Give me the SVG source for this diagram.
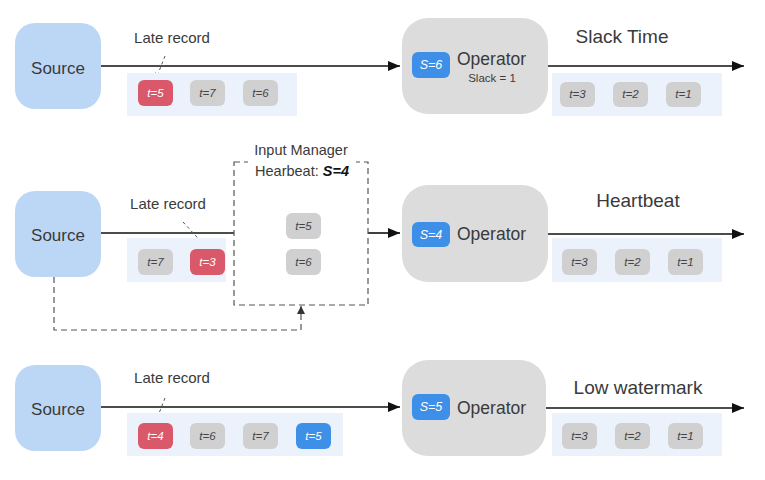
<svg xmlns="http://www.w3.org/2000/svg" width="765" height="480" viewBox="0 0 765 480">
<defs>
<marker id="arr" markerWidth="12" markerHeight="10" refX="12" refY="5" orient="auto" markerUnits="userSpaceOnUse"><path d="M0,0 L12,5 L0,10 Z" fill="#111"/></marker>
<marker id="sarr" markerWidth="6" markerHeight="6" refX="6" refY="3" orient="auto" markerUnits="userSpaceOnUse"><path d="M0,0 L6,3 L0,6 Z" fill="#333"/></marker>
<marker id="darr" markerWidth="8" markerHeight="8" refX="8" refY="4" orient="auto" markerUnits="userSpaceOnUse"><path d="M0,0 L8,4 L0,8 Z" fill="#333"/></marker>
</defs>
<style>
text{font-family:"Liberation Sans",Arial,sans-serif;fill:#3a3a3a}
.src rect{fill:#bcd7f6}
.src text{font-size:17px;text-anchor:middle}
.op rect.b{fill:#dcdcdc}
.op text.o{font-size:17.5px}
.panel{fill:#ebf2fc}
.chip{fill:#d0d0d0}
.red{fill:#d9586a}
.blue{fill:#3d8fe8}
.ct{font-size:11.5px;font-style:italic;text-anchor:middle;fill:#444}
.wt{fill:#fff}
.lbl{font-size:15px;text-anchor:middle}
.ttl{font-size:19px;text-anchor:middle}
.ln{stroke:#111;stroke-width:1.6;fill:none}
.dl{stroke:#555;stroke-width:1;stroke-dasharray:3,3;fill:none}
.dash{stroke:#555;stroke-width:1.2;stroke-dasharray:6,4;fill:none}
</style>
<rect width="765" height="480" fill="#fff"/>

<g id="connectors">
<line class="ln" x1="101" y1="66" x2="400" y2="66" marker-end="url(#arr)"/>
<line class="ln" x1="548" y1="66" x2="744" y2="66" marker-end="url(#arr)"/>
<line class="dl" x1="165" y1="56" x2="156" y2="79" marker-end="url(#sarr)"/>
<line class="ln" x1="101" y1="233" x2="234" y2="233"/>
<line class="ln" x1="368" y1="233" x2="400" y2="233" marker-end="url(#arr)"/>
<line class="ln" x1="548" y1="234" x2="744" y2="234" marker-end="url(#arr)"/>
<line class="dl" x1="183" y1="222" x2="207" y2="248" marker-end="url(#sarr)"/>
<path class="dash" d="M54,277 V330 H301 V306" marker-end="url(#darr)"/>
<line class="ln" x1="101" y1="407" x2="400" y2="407" marker-end="url(#arr)"/>
<line class="ln" x1="546" y1="408" x2="744" y2="408" marker-end="url(#arr)"/>
<line class="dl" x1="165" y1="398" x2="156" y2="421" marker-end="url(#sarr)"/>
</g>

<!-- Row 1 -->
<g id="source1" class="src"><rect x="15" y="23" width="86" height="86" rx="20"/><text x="58" y="74">Source</text></g>
<text class="lbl" x="172" y="43">Late record</text>
<g id="queue1">
<rect class="panel" x="127" y="73" width="170" height="43"/>
<rect class="red" x="138" y="80" width="35" height="26" rx="6"/><text class="ct wt" x="155.5" y="97">t=5</text>
<rect class="chip" x="190" y="80" width="35" height="26" rx="6"/><text class="ct" x="207.5" y="97">t=7</text>
<rect class="chip" x="243" y="80" width="35" height="26" rx="6"/><text class="ct" x="260.5" y="97">t=6</text>
</g>
<g id="operator1" class="op">
<rect class="b" x="402" y="18" width="146" height="96" rx="26"/>
<rect class="blue" x="412" y="52" width="38" height="26" rx="6"/><text class="ct wt" x="431" y="69" style="font-size:12.5px">S=6</text>
<text class="o" x="457" y="65">Operator</text>
<text x="492" y="82" style="font-size:11.5px;text-anchor:middle">Slack = 1</text>
</g>
<text class="ttl" x="622" y="43">Slack Time</text>
<g id="out1">
<rect class="panel" x="552" y="73" width="170" height="43"/>
<rect class="chip" x="560" y="82" width="35" height="25" rx="6"/><text class="ct" x="577.5" y="98">t=3</text>
<rect class="chip" x="613" y="82" width="35" height="25" rx="6"/><text class="ct" x="630.5" y="98">t=2</text>
<rect class="chip" x="666" y="82" width="35" height="25" rx="6"/><text class="ct" x="683.5" y="98">t=1</text>
</g>

<!-- Row 2 -->
<g id="source2" class="src"><rect x="15" y="191" width="86" height="86" rx="20"/><text x="58" y="241">Source</text></g>
<text class="lbl" x="168" y="209">Late record</text>
<g id="queue2">
<rect class="panel" x="127" y="238" width="99" height="44"/>
<rect class="chip" x="138" y="249" width="35" height="26" rx="6"/><text class="ct" x="155.5" y="266">t=7</text>
<rect class="red" x="190" y="249" width="35" height="26" rx="6"/><text class="ct wt" x="207.5" y="266">t=3</text>
</g>
<g id="inputmanager">
<rect class="dash" x="234" y="162" width="134" height="143"/>
<rect x="248" y="148" width="108" height="32" fill="#fff"/>
<text x="301" y="155" style="font-size:14.5px;text-anchor:middle">Input Manager</text>
<text x="302" y="176" style="font-size:14.5px;text-anchor:middle">Hearbeat: <tspan style="font-weight:bold;font-style:italic;fill:#111">S=4</tspan></text>
<rect class="chip" x="286" y="213" width="35" height="26" rx="6"/><text class="ct" x="303.5" y="230">t=5</text>
<rect class="chip" x="286" y="249" width="35" height="26" rx="6"/><text class="ct" x="303.5" y="266">t=6</text>
</g>
<g id="operator2" class="op">
<rect class="b" x="402" y="185" width="146" height="97" rx="26"/>
<rect class="blue" x="412" y="222" width="38" height="25" rx="6"/><text class="ct wt" x="431" y="239" style="font-size:12.5px">S=4</text>
<text class="o" x="457" y="240">Operator</text>
</g>
<text class="ttl" x="638" y="207">Heartbeat</text>
<g id="out2">
<rect class="panel" x="552" y="238" width="170" height="44"/>
<rect class="chip" x="562" y="249" width="35" height="26" rx="6"/><text class="ct" x="579.5" y="266">t=3</text>
<rect class="chip" x="615" y="249" width="35" height="26" rx="6"/><text class="ct" x="632.5" y="266">t=2</text>
<rect class="chip" x="668" y="249" width="35" height="26" rx="6"/><text class="ct" x="685.5" y="266">t=1</text>
</g>

<!-- Row 3 -->
<g id="source3" class="src"><rect x="15" y="365" width="86" height="86" rx="20"/><text x="58" y="415">Source</text></g>
<text class="lbl" x="172" y="383">Late record</text>
<g id="queue3">
<rect class="panel" x="127" y="413" width="216" height="43"/>
<rect class="red" x="138" y="423" width="35" height="26" rx="6"/><text class="ct wt" x="155.5" y="440">t=4</text>
<rect class="chip" x="190" y="423" width="35" height="26" rx="6"/><text class="ct" x="207.5" y="440">t=6</text>
<rect class="chip" x="243" y="423" width="35" height="26" rx="6"/><text class="ct" x="260.5" y="440">t=7</text>
<rect class="blue" x="296" y="423" width="35" height="26" rx="6"/><text class="ct wt" x="313.5" y="440">t=5</text>
</g>
<g id="operator3" class="op">
<rect class="b" x="402" y="360" width="144" height="96" rx="26"/>
<rect class="blue" x="412" y="394" width="38" height="26" rx="6"/><text class="ct wt" x="431" y="411" style="font-size:12.5px">S=5</text>
<text class="o" x="457" y="414">Operator</text>
</g>
<text class="ttl" x="638" y="394">Low watermark</text>
<g id="out3">
<rect class="panel" x="552" y="413" width="170" height="43"/>
<rect class="chip" x="562" y="423" width="35" height="26" rx="6"/><text class="ct" x="579.5" y="440">t=3</text>
<rect class="chip" x="615" y="423" width="35" height="26" rx="6"/><text class="ct" x="632.5" y="440">t=2</text>
<rect class="chip" x="668" y="423" width="35" height="26" rx="6"/><text class="ct" x="685.5" y="440">t=1</text>
</g>
</svg>
